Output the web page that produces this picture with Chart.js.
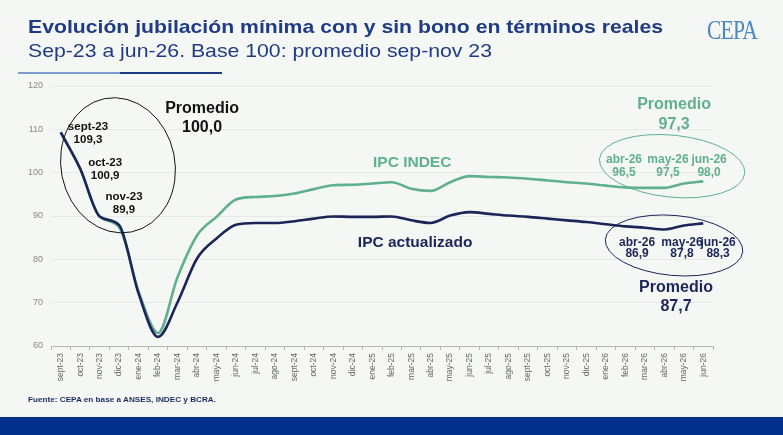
<!DOCTYPE html>
<html>
<head>
<meta charset="utf-8">
<script src="https://cdn.jsdelivr.net/npm/chart.js@4.4.1/dist/chart.umd.min.js"></script>
<style>
  html, body { margin: 0; padding: 0; background: #f5f7f5; }
  #page { position: relative; width: 783px; height: 435px; overflow: hidden; font-family: 'Liberation Sans', Arial, sans-serif; }
  #wrap { position: absolute; left: 0; top: 0; width: 783px; height: 435px; }
  .fit { position: absolute; white-space: nowrap; transform-origin: left top; color: #1f3b84; }
  #title { left: 28px; top: 16px; font-size: 18.5px; font-weight: bold; }
  #subtitle { left: 28px; top: 40px; font-size: 18.5px; }
  #rule1 { position: absolute; left: 18px; top: 72px; width: 102px; height: 2px; background: #7d9bd0; }
  #rule2 { position: absolute; left: 120px; top: 72px; width: 102px; height: 2px; background: #1f3b84; }
  #logo { position: absolute; left: 707px; top: 15px; font-family: 'Liberation Serif', serif; font-size: 27px; color: #4a86c4; letter-spacing: -1px; transform: scaleX(0.8); transform-origin: left top; }
  #source { left: 28px; top: 395px; font-size: 8px; font-weight: bold; color: #1c2a5e; }
  #band { position: absolute; left: 0; top: 417px; width: 783px; height: 18px; background: #00318a; }
</style>
</head>
<body>
<div id="page">
  <div id="wrap"><canvas id="chart"></canvas></div>
  <div class="fit" id="title" data-w="635">Evolución jubilación mínima con y sin bono en términos reales</div>
  <div class="fit" id="subtitle" data-w="464">Sep-23 a jun-26. Base 100: promedio sep-nov 23</div>
  <div id="rule1"></div><div id="rule2"></div>
  <div id="logo">CEPA</div>
  <div class="fit" id="source" data-w="188">Fuente: CEPA en base a ANSES, INDEC y BCRA.</div>
  <div id="band"></div>
</div>
<script>
const months = ['sept-23', 'oct-23', 'nov-23', 'dic-23', 'ene-24', 'feb-24', 'mar-24', 'abr-24', 'may-24', 'jun-24', 'jul-24', 'ago-24',
  'sept-24', 'oct-24', 'nov-24', 'dic-24', 'ene-25', 'feb-25', 'mar-25', 'abr-25', 'may-25', 'jun-25', 'jul-25', 'ago-25',
  'sept-25', 'oct-25', 'nov-25', 'dic-25', 'ene-26', 'feb-26', 'mar-26', 'abr-26', 'may-26', 'jun-26'];

const ipcActualizado = [109.3, 100.9, 89.9, 87.9, 72.1, 62.1, 70.1, 80.2, 84.8, 88.0, 88.4, 88.4,
  88.8, 89.4, 89.9, 89.8, 89.8, 89.9, 89.0, 88.4, 90.1, 90.9, 90.5, 90.1,
  89.8, 89.4, 89.0, 88.6, 88.1, 87.6, 87.3, 86.9, 87.8, 88.3];

const ipcIndec = [109.3, 100.9, 89.9, 87.4, 72.6, 63.0, 75.9, 85.5, 89.8, 93.8, 94.4, 94.6,
  95.2, 96.2, 97.1, 97.2, 97.5, 97.8, 96.3, 95.8, 97.8, 99.2, 99.0, 98.9,
  98.6, 98.2, 97.8, 97.5, 97.0, 96.6, 96.5, 96.5, 97.5, 98.0];

const yTicks = [60, 70, 80, 90, 100, 110, 120];

const NAVY = '#1b2559';
const GREEN = '#5fb08f';
const BLACK = '#111111';

// text notes placed in data coordinates (category index, value)
const notes = [
  ['sept-23', 1.40, 110.5, BLACK, 11.5], ['109,3', 1.40, 107.5, BLACK, 11.5],
  ['oct-23', 2.28, 102.2, BLACK, 11.5], ['100,9', 2.28, 99.2, BLACK, 11.5],
  ['nov-23', 3.25, 94.4, BLACK, 11.5], ['89,9', 3.25, 91.5, BLACK, 11.5],
  ['Promedio', 7.26, 114.7, BLACK, 16], ['100,0', 7.26, 110.3, BLACK, 16],
  ['IPC INDEC', 18.05, 102.2, GREEN, 15.5],
  ['IPC actualizado', 18.2, 83.9, NAVY, 15.5],
  ['Promedio', 31.5, 115.6, GREEN, 16], ['97,3', 31.5, 111.2, GREEN, 16],
  ['abr-26', 28.93, 102.9, GREEN, 12], ['96,5', 28.93, 100.1, GREEN, 12],
  ['may-26', 31.19, 102.9, GREEN, 12], ['97,5', 31.19, 100.1, GREEN, 12],
  ['jun-26', 33.30, 102.9, GREEN, 12], ['98,0', 33.30, 100.1, GREEN, 12],
  ['abr-26', 29.60, 83.9, NAVY, 12], ['86,9', 29.60, 81.3, NAVY, 12],
  ['may-26', 31.91, 83.9, NAVY, 12], ['87,8', 31.91, 81.3, NAVY, 12],
  ['jun-26', 33.76, 83.9, NAVY, 12], ['88,3', 33.76, 81.3, NAVY, 12],
  ['Promedio', 31.6, 73.5, NAVY, 16], ['87,7', 31.6, 69.1, NAVY, 16]
];

// ellipses: index, value, rx, ry, rotation, colour
const rings = [
  [2.94, 101.7, 57, 68, -0.2, BLACK],
  [31.40, 101.5, 73, 31, 0.1, GREEN],
  [31.50, 83.2, 69, 30, 0.09, NAVY]
];

const notesPlugin = {
  id: 'notes',
  afterDatasetsDraw(chart) {
    const { ctx, scales: { x, y } } = chart;
    ctx.save();
    rings.forEach(([i, v, rx, ry, rot, col]) => {
      ctx.beginPath();
      ctx.ellipse(x.getPixelForValue(i), y.getPixelForValue(v), rx, ry, rot, 0, Math.PI * 2);
      ctx.strokeStyle = col;
      ctx.lineWidth = 1;
      ctx.stroke();
    });
    ctx.textAlign = 'center';
    ctx.textBaseline = 'middle';
    notes.forEach(([t, i, v, col, size]) => {
      ctx.font = 'bold ' + size + 'px "Liberation Sans", Arial, sans-serif';
      ctx.fillStyle = col;
      ctx.fillText(t, x.getPixelForValue(i), y.getPixelForValue(v));
    });
    ctx.restore();
  }
};

new Chart(document.getElementById('chart'), {
  type: 'line',
  data: {
    labels: months,
    datasets: [
      { label: 'IPC actualizado', data: ipcActualizado, borderColor: NAVY, borderWidth: 2.6, pointRadius: 0, cubicInterpolationMode: 'monotone' },
      { label: 'IPC INDEC', data: ipcIndec, borderColor: GREEN, borderWidth: 2.6, pointRadius: 0, cubicInterpolationMode: 'monotone' }
    ]
  },
  options: {
    responsive: true,
    maintainAspectRatio: false,
    animation: false,
    layout: { padding: { left: 0, top: 86, right: 70, bottom: 49 } },
    plugins: { legend: { display: false }, tooltip: { enabled: false } },
    scales: {
      x: {
        offset: true,
        grid: { offset: true, drawOnChartArea: false, drawTicks: true, tickLength: 4, color: '#b5b8b5' },
        border: { display: true, color: '#b5b8b5' },
        ticks: { minRotation: 90, maxRotation: 90, autoSkip: false, padding: 3, color: '#666', font: { size: 8.5, family: '"Liberation Sans Narrow", "Liberation Sans", Arial' } },
        afterFit(s) { s.height = 40; }
      },
      y: {
        min: 60, max: 120,
        afterBuildTicks(s) { s.ticks = yTicks.map(v => ({ value: v })); },
        grid: { color: '#e6e9e6', drawTicks: false },
        border: { display: false },
        ticks: { padding: 8, color: '#888', font: { size: 9, family: '"Liberation Sans", Arial' } },
        afterFit(s) { s.width = 51; }
      }
    }
  },
  plugins: [notesPlugin]
});

// squeeze header/footer texts to the widths seen in the picture
document.querySelectorAll('.fit').forEach(el => {
  const w = el.getBoundingClientRect().width;
  el.style.transform = 'scaleX(' + (parseFloat(el.dataset.w) / w) + ')';
});
</script>
</body>
</html>
